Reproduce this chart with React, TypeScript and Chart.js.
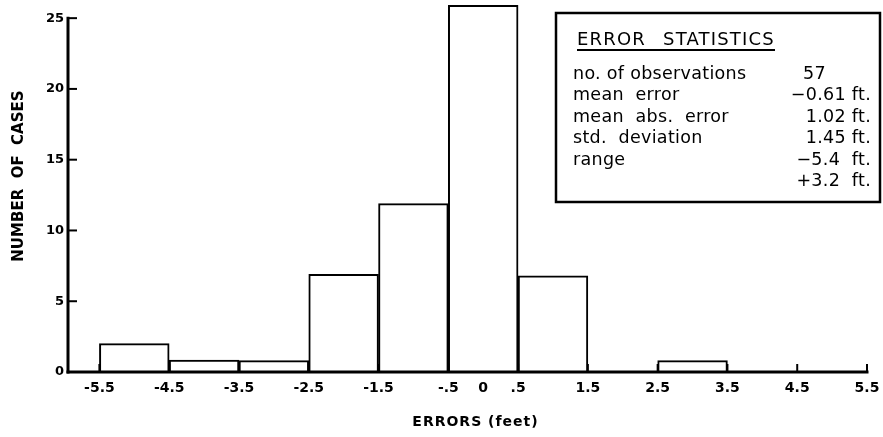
import React, { useEffect, useRef } from "react";
import { Chart, registerables } from "chart.js";

Chart.register(...registerables);

// ---- data ----
const binCenters = [-5, -4, -3, -2, -1, 0, 1, 2, 3, 4, 5];
const caseCounts = [2, 0.85, 0.8, 6.9, 11.9, 25.9, 6.8, 0, 0.8, 0, 0];
const binEdges = [-5.5, -4.5, -3.5, -2.5, -1.5, -0.5, 0.5, 1.5, 2.5, 3.5, 4.5, 5.5];
const xTickValues = [-5.5, -4.5, -3.5, -2.5, -1.5, -0.5, 0, 0.5, 1.5, 2.5, 3.5, 4.5, 5.5];
const xTickLabels = ["-5.5", "-4.5", "-3.5", "-2.5", "-1.5", "-.5", "0", ".5", "1.5", "2.5", "3.5", "4.5", "5.5"];
const yTickValues = [0, 5, 10, 15, 20, 25];
const yTickLabels = ["0", "5", "10", "15", "20", "25"];
const statTitleWords = ["ERROR", "STATISTICS"];
const statLabels = ["no. of observations", "mean  error", "mean  abs.  error", "std.  deviation", "range", ""];
const statValues = ["57", "\u22120.61 ft.", "1.02 ft.", "1.45 ft.", "\u22125.4  ft.", "+3.2  ft."];
const xTitle = "ERRORS (feet)";
const yTitle = "NUMBER  OF  CASES";

const FONT = "'DejaVu Sans', sans-serif";

const overlay = {
  id: "overlay",
  afterDatasetsDraw(chart: any) {
    const { ctx } = chart;
    const x = chart.scales.x;
    const y = chart.scales.y;
    const x0 = x.getPixelForValue(x.min);
    const y0 = y.getPixelForValue(0);
    const yTop = y.getPixelForValue(25);
    const xEnd = x.getPixelForValue(5.5);
    ctx.save();
    ctx.strokeStyle = "#000";
    ctx.fillStyle = "#000";
    ctx.lineCap = "square";
    ctx.lineWidth = 3;
    ctx.beginPath();
    ctx.moveTo(x0, y0);
    ctx.lineTo(x0, yTop);
    ctx.stroke();
    ctx.beginPath();
    ctx.moveTo(x0, y0);
    ctx.lineTo(xEnd, y0);
    ctx.stroke();
    ctx.lineWidth = 2;
    ctx.lineCap = "butt";
    yTickValues.forEach((v) => {
      if (v === 0) return;
      const py = y.getPixelForValue(v);
      ctx.beginPath();
      ctx.moveTo(x0, py);
      ctx.lineTo(x0 + 9, py);
      ctx.stroke();
    });
    binEdges.forEach((v) => {
      const px = x.getPixelForValue(v);
      ctx.beginPath();
      ctx.moveTo(px, y0);
      ctx.lineTo(px, y0 - 8);
      ctx.stroke();
    });

    // tick labels
    ctx.font = `bold 13px ${FONT}`;
    ctx.textAlign = "right";
    ctx.textBaseline = "middle";
    yTickValues.forEach((v, i) => {
      ctx.fillText(yTickLabels[i], x0 - 4, y.getPixelForValue(v));
    });
    ctx.font = `bold 14px ${FONT}`;
    ctx.textAlign = "center";
    xTickValues.forEach((v, i) => {
      ctx.fillText(xTickLabels[i], x.getPixelForValue(v), y0 + 16);
    });

    // axis titles
    (ctx as any).letterSpacing = "1px";
    ctx.font = `bold 14px ${FONT}`;
    ctx.fillText(xTitle, (x0 + xEnd) / 2 + 8, y0 + 50);
    (ctx as any).letterSpacing = "0px";
    ctx.font = `bold 15px ${FONT}`;
    ctx.save();
    ctx.translate(19, (y0 + yTop) / 2 - 19);
    ctx.rotate(-Math.PI / 2);
    ctx.fillText(yTitle, 0, 0);
    ctx.restore();

    // statistics box
    ctx.lineWidth = 2.5;
    ctx.strokeRect(556, 13, 324, 189);
    (ctx as any).letterSpacing = "1.2px";
    ctx.font = `18px ${FONT}`;
    ctx.textAlign = "left";
    ctx.textBaseline = "alphabetic";
    ctx.fillText(statTitleWords[0], 577, 45);
    ctx.fillText(statTitleWords[1], 663, 45);
    ctx.lineWidth = 2;
    ctx.beginPath();
    ctx.moveTo(577, 50);
    ctx.lineTo(775, 50);
    ctx.stroke();
    (ctx as any).letterSpacing = "0.3px";
    ctx.font = `17.5px ${FONT}`;
    ctx.textBaseline = "middle";
    statLabels.forEach((s, i) => {
      const py = 74 + i * 21.5;
      ctx.textAlign = "left";
      ctx.fillText(s, 573, py);
      if (i === 0) {
        ctx.fillText(statValues[i], 803, py);
      } else {
        ctx.textAlign = "right";
        ctx.fillText(statValues[i], 871, py);
      }
    });
    ctx.restore();
  },
};

export default function App() {
  const ref = useRef<HTMLCanvasElement>(null);
  useEffect(() => {
    if (!ref.current) return;
    const chart = new Chart(ref.current, {
      type: "bar",
      data: {
        datasets: [
          {
            data: binCenters.map((c, i) => ({ x: c, y: caseCounts[i] })) as any,
            backgroundColor: "#ffffff",
            borderColor: "#000000",
            borderWidth: 2,
            barPercentage: 1,
            categoryPercentage: 1,
          },
        ],
      },
      options: {
        animation: false,
        responsive: false,
        devicePixelRatio: 1,
        layout: { padding: { left: 68, right: 16, top: 4, bottom: 65 } },
        scales: {
          x: {
            type: "linear",
            min: -5.95,
            max: 5.5,
            offset: false,
            display: false,
            afterBuildTicks: (s: any) => {
              s.ticks = binEdges.map((v) => ({ value: v }));
            },
          },
          y: { type: "linear", min: 0, max: 26, display: false },
        },
        plugins: { legend: { display: false }, tooltip: { enabled: false } },
      },
      plugins: [overlay],
    });
    return () => chart.destroy();
  }, []);
  return (
    <div style={{ position: "fixed", left: 0, top: 0, width: 883, height: 437, background: "#fff" }}>
      <canvas ref={ref} width={883} height={437} style={{ display: "block" }} />
    </div>
  );
}
